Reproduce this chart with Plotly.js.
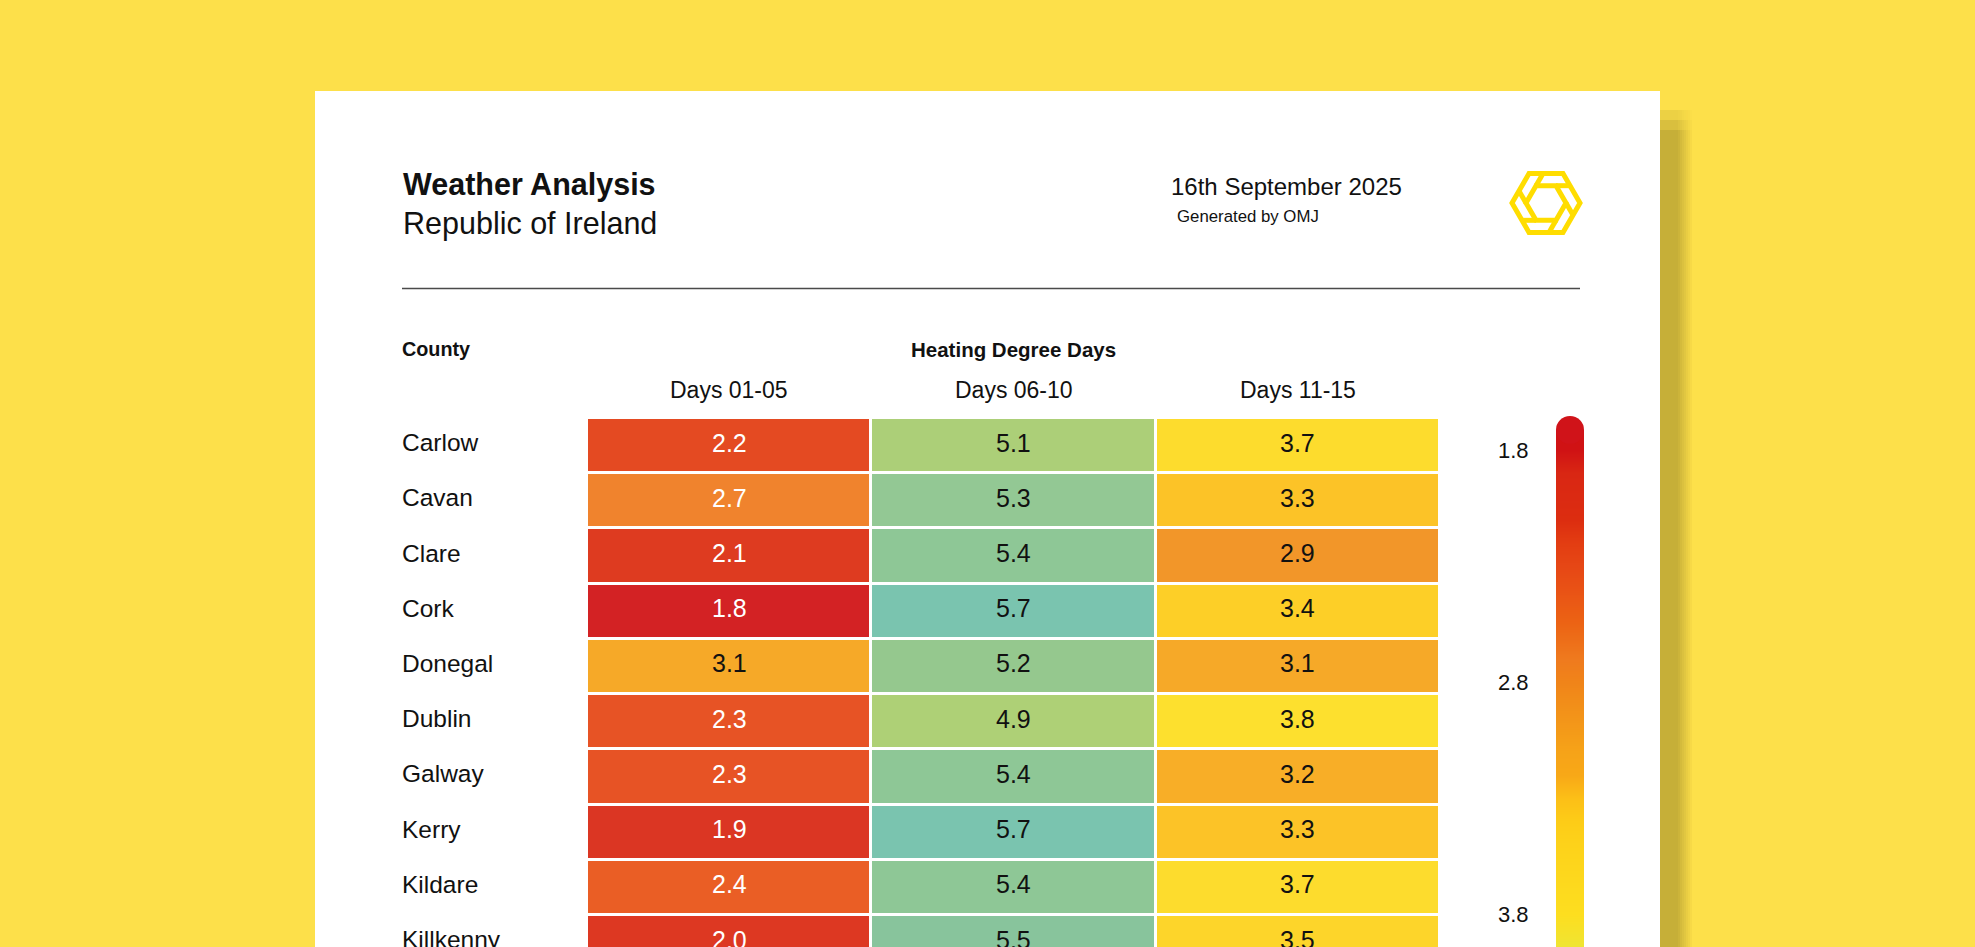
<!DOCTYPE html>
<html>
<head>
<meta charset="utf-8">
<script src="https://cdn.plot.ly/plotly-3.0.1.min.js"></script>
<style>
  html, body { margin: 0; padding: 0; background: #FDE04A; }
  #chart { width: 1975px; height: 947px; }
</style>
</head>
<body>
<div id="chart"></div>
<script>
// ---------------- DATA ----------------
const counties = ["Carlow", "Cavan", "Clare", "Cork", "Donegal", "Dublin", "Galway", "Kerry", "Kildare", "Killkenny"];
const periods = ["Days 01-05", "Days 06-10", "Days 11-15"];
const days01_05 = [2.2, 2.7, 2.1, 1.8, 3.1, 2.3, 2.3, 1.9, 2.4, 2.0];
const days06_10 = [5.1, 5.3, 5.4, 5.7, 5.2, 4.9, 5.4, 5.7, 5.4, 5.5];
const days11_15 = [3.7, 3.3, 2.9, 3.4, 3.1, 3.8, 3.2, 3.3, 3.7, 3.5];
const scaleTicks = [1.8, 2.8, 3.8, 4.8, 5.8];

const titleText = "Weather Analysis";
const subtitleText = "Republic of Ireland";
const dateText = "16th September 2025";
const creditText = "Generated by OMJ";
const rowHeader = "County";
const groupHeader = "Heating Degree Days";

// ---------------- LAYOUT HELPERS ----------------
const W = 1975, H = 947;
const px = x => x / W;
const py = y => 1 - y / H;
const FONT = "Liberation Sans, Arial, Helvetica, sans-serif";
const INK = "#111111";

const series = [days01_05, days06_10, days11_15];
const z = counties.map((c, i) => series.map(s => s[i]));

const ZMIN = 1.714, ZMAX = 5.8;
const stops = [
  [1.714, "#D01319"], [1.8, "#D01214"], [1.9, "#D92713"], [2.0, "#DB2A12"],
  [2.1, "#DC2D10"], [2.2, "#E33D12"], [2.3, "#E64715"], [2.4, "#E95215"],
  [2.55, "#EC6414"], [2.7, "#EF7A1E"], [2.8, "#F08419"], [2.9, "#F28F19"],
  [3.1, "#F6A318"], [3.2, "#F8A817"], [3.3, "#FCBF17"], [3.4, "#FDCC17"],
  [3.5, "#FDD21A"], [3.7, "#FDDA1E"], [3.8, "#FDDE1F"], [3.95, "#EEE534"],
  [4.1, "#E2E140"], [4.5, "#C4D862"], [4.9, "#A8CD6C"], [5.1, "#A6CC6E"],
  [5.2, "#8DC486"], [5.3, "#8BC48C"], [5.4, "#86C38F"], [5.5, "#7FC095"],
  [5.7, "#70C0AA"], [5.8, "#66BFB2"]
];
const colorscale = stops.map(([v, c]) => [(v - ZMIN) / (ZMAX - ZMIN), c]);

const heatmap = {
  type: "heatmap",
  x: periods,
  y: counties,
  z: z,
  zmin: ZMIN, zmax: ZMAX,
  colorscale: colorscale,
  opacity: 0.93,
  xgap: 3, ygap: 3,
  showscale: false,
  hoverinfo: "skip"
};

// vertical colour scale strip (low values at top, as in the reference)
const scaleStrip = {
  type: "heatmap",
  xaxis: "x2", yaxis: "y2",
  x: [0],
  y: scaleTicks,
  z: scaleTicks.map(v => [v]),
  zmin: ZMIN, zmax: ZMAX,
  colorscale: colorscale,
  zsmooth: "best",
  showscale: false,
  hoverinfo: "skip"
};

// ---------------- ANNOTATIONS ----------------
const ann = [];
ann.push({ text: titleText, xref: "paper", yref: "paper", x: px(401), y: py(184), xanchor: "left", yanchor: "middle", showarrow: false, font: { family: FONT, size: 30.5, color: INK, weight: 700 } });
ann.push({ text: subtitleText, xref: "paper", yref: "paper", x: px(401), y: py(224), xanchor: "left", yanchor: "middle", showarrow: false, font: { family: FONT, size: 30.5, color: INK } });
ann.push({ text: dateText, xref: "paper", yref: "paper", x: px(1169), y: py(187), xanchor: "left", yanchor: "middle", showarrow: false, font: { family: FONT, size: 24, color: INK } });
ann.push({ text: creditText, xref: "paper", yref: "paper", x: px(1175), y: py(217), xanchor: "left", yanchor: "middle", showarrow: false, font: { family: FONT, size: 16.8, color: INK } });
ann.push({ text: rowHeader, xref: "paper", yref: "paper", x: px(400), y: py(349), xanchor: "left", yanchor: "middle", showarrow: false, font: { family: FONT, size: 19.8, color: INK, weight: 700 } });
ann.push({ text: groupHeader, xref: "paper", yref: "paper", x: px(1013.5), y: py(349), xanchor: "center", yanchor: "middle", showarrow: false, font: { family: FONT, size: 20.5, color: INK, weight: 700 } });

periods.forEach(p => ann.push({ text: p, xref: "x", yref: "paper", x: p, y: py(390), xanchor: "center", yanchor: "middle", showarrow: false, font: { family: FONT, size: 23, color: INK } }));
counties.forEach(c => ann.push({ text: c, xref: "paper", yref: "y", x: px(400), y: c, yshift: 3, xanchor: "left", yanchor: "middle", showarrow: false, font: { family: FONT, size: 24.5, color: INK } }));
counties.forEach((c, i) => periods.forEach((p, j) => {
  const v = series[j][i];
  ann.push({ text: v.toFixed(1), xref: "x", yref: "y", x: p, y: c, yshift: 3, xanchor: "center", yanchor: "middle", showarrow: false,
    font: { family: FONT, size: 25, color: v < 2.8 ? "#FFFFFF" : INK } });
}));

// ---------------- SHAPES ----------------
const shapes = [];
// card shadow (soft right edge)
for (let d = 0; d < 32; d += 2) {
  let a = d < 16 ? 0.235 : 0.235 * (1 - (d - 16) / 16);
  if (a <= 0) continue;
  const fill = f => `rgba(20,15,0,${(a * f).toFixed(3)})`;
  shapes.push({ type: "rect", xref: "paper", yref: "paper", layer: "below", x0: px(1660 + d), x1: px(1662 + d), y0: py(130), y1: py(960), fillcolor: fill(1), line: { width: 0 } });
  shapes.push({ type: "rect", xref: "paper", yref: "paper", layer: "below", x0: px(1660 + d), x1: px(1662 + d), y0: py(120), y1: py(130), fillcolor: fill(0.65), line: { width: 0 } });
  shapes.push({ type: "rect", xref: "paper", yref: "paper", layer: "below", x0: px(1660 + d), x1: px(1662 + d), y0: py(110), y1: py(120), fillcolor: fill(0.3), line: { width: 0 } });
}
// card
shapes.push({ type: "rect", xref: "paper", yref: "paper", layer: "below", x0: px(315), x1: px(1660), y0: py(91), y1: py(960), fillcolor: "#FFFFFF", line: { width: 0 } });
// rule
shapes.push({ type: "line", xref: "paper", yref: "paper", layer: "above", x0: px(402), x1: px(1580), y0: py(288.5), y1: py(288.5), line: { color: "#4A4A4A", width: 1.5 } });
// rounded cap of the colour scale
shapes.push({ type: "circle", xref: "paper", yref: "paper", layer: "above", x0: px(1556), x1: px(1584), y0: py(416), y1: py(444), fillcolor: "#D01319", line: { width: 0 } });

// logo
const LC = { x: 1546, y: 203 };
const hexPts = R => [0, 1, 2, 3, 4, 5].map(k => ({ x: LC.x + R * Math.cos(k * Math.PI / 3), y: LC.y + R * Math.sin(k * Math.PI / 3) }));
const toPath = pts => pts.map((p, i) => (i ? "L" : "M") + px(p.x).toFixed(5) + "," + py(p.y).toFixed(5)).join(" ") + " Z";
const outer = hexPts(34), inner = hexPts(20);
const logoColor = "#FFDD00";
shapes.push({ type: "path", xref: "paper", yref: "paper", layer: "above", path: toPath(outer), line: { color: logoColor, width: 5 } });
shapes.push({ type: "path", xref: "paper", yref: "paper", layer: "above", path: toPath(inner), line: { color: logoColor, width: 5 } });
function rayHit(o, d) {
  let best = Infinity;
  for (let k = 0; k < 6; k++) {
    const a = outer[k], b = outer[(k + 1) % 6];
    const ex = b.x - a.x, ey = b.y - a.y;
    const den = d.x * ey - d.y * ex;
    if (Math.abs(den) < 1e-9) continue;
    const t = ((a.x - o.x) * ey - (a.y - o.y) * ex) / den;
    const u = ((a.x - o.x) * d.y - (a.y - o.y) * d.x) / den;
    if (t > 1e-6 && u >= 0 && u <= 1) best = Math.min(best, t);
  }
  return { x: o.x + d.x * best, y: o.y + d.y * best };
}
for (let k = 0; k < 6; k++) {
  const a = inner[k], b = inner[(k + 1) % 6];
  const len = Math.hypot(b.x - a.x, b.y - a.y);
  const d = { x: (b.x - a.x) / len, y: (b.y - a.y) / len };
  const hit = rayHit(b, d);
  shapes.push({ type: "line", xref: "paper", yref: "paper", layer: "above", x0: px(b.x), y0: py(b.y), x1: px(hit.x), y1: py(hit.y), line: { color: logoColor, width: 5 } });
}

const PX_PER_UNIT = 232;
const stripTop = 430;
const yTopVal = 1.8 - (450 - stripTop) / PX_PER_UNIT;
const yBotVal = yTopVal + (H - stripTop) / PX_PER_UNIT;

const layout = {
  width: W, height: H,
  margin: { l: 0, r: 0, t: 0, b: 0, pad: 0 },
  paper_bgcolor: "#FDE04A",
  plot_bgcolor: "rgba(0,0,0,0)",
  font: { family: FONT, color: INK },
  xaxis: { domain: [px(587), px(1440)], range: [-0.5, 2.5], showticklabels: false, showgrid: false, zeroline: false, ticks: "", fixedrange: true, type: "category" },
  yaxis: { domain: [0, py(418)], range: [9.08, -0.5], autorange: false, showticklabels: false, showgrid: false, zeroline: false, ticks: "", fixedrange: true, type: "category" },
  xaxis2: { domain: [px(1556), px(1584)], range: [-0.5, 0.5], anchor: "y2", showticklabels: false, showgrid: false, zeroline: false, ticks: "", fixedrange: true },
  yaxis2: { domain: [0, py(stripTop)], range: [yBotVal, yTopVal], anchor: "x2", side: "left", showgrid: false, zeroline: false, showline: false,
    tickmode: "array", tickvals: scaleTicks, ticktext: scaleTicks.map(v => v.toFixed(1)), ticks: "outside", ticklen: 0, ticklabelstandoff: 22,
    tickfont: { family: FONT, size: 22, color: INK }, fixedrange: true },
  annotations: ann,
  shapes: shapes,
  showlegend: false
};

Plotly.newPlot("chart", [heatmap, scaleStrip], layout, { displayModeBar: false, staticPlot: true });
</script>
</body>
</html>
